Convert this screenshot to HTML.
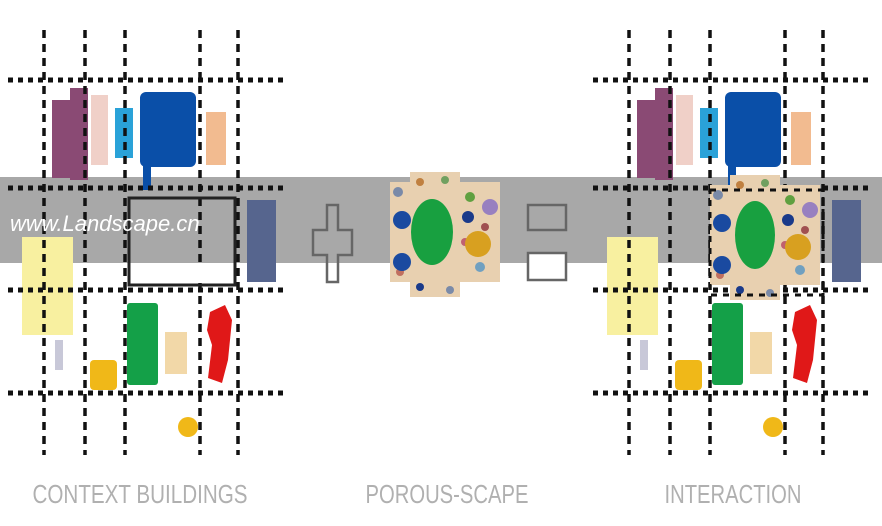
<!DOCTYPE html>
<html><head><meta charset="utf-8"><style>
html,body{margin:0;padding:0;background:#fff;width:882px;height:526px;overflow:hidden}
</style></head><body>
<svg width="882" height="526" viewBox="0 0 882 526" xmlns="http://www.w3.org/2000/svg">
<defs>
<g id="bld">
  <rect x="52" y="100" width="20" height="78" fill="#8a4a74"/>
  <rect x="70" y="88" width="18" height="92" fill="#8a4a74"/>
  <rect x="91" y="95" width="17" height="70" fill="#f0d0c8"/>
  <rect x="115" y="108" width="18" height="50" fill="#2aa2d8"/>
  <rect x="140" y="92" width="56" height="75" rx="6" fill="#0a4fa8"/>
  <rect x="143" y="150" width="8" height="40" fill="#0a4fa8"/>
  <rect x="206" y="112" width="20" height="53" fill="#f2bb90"/>
  <rect x="22" y="237" width="51" height="98" fill="#f8f0a0"/>
  <rect x="55" y="340" width="8" height="30" fill="#c8c8d8"/>
  <rect x="90" y="360" width="27" height="30" rx="4" fill="#f0b818"/>
  <rect x="127" y="303" width="31" height="82" rx="3" fill="#14a048"/>
  <rect x="165" y="332" width="22" height="42" fill="#f2d8a8"/>
  <path d="M210 312 L225 305 L232 320 L228 360 L222 383 L208 378 L212 345 L207 330Z" fill="#e01818"/>
  <circle cx="188" cy="427" r="10" fill="#f0b818"/>
  <g stroke="#111" stroke-width="3.5" stroke-dasharray="8,6" fill="none">
    <line x1="44" y1="30" x2="44" y2="455"/>
    <line x1="85" y1="30" x2="85" y2="455"/>
    <line x1="125" y1="30" x2="125" y2="455"/>
    <line x1="200" y1="30" x2="200" y2="455"/>
    <line x1="238" y1="30" x2="238" y2="455"/>
  </g>
  <g stroke="#111" stroke-width="5" stroke-dasharray="5,5" fill="none">
    <line x1="8" y1="80" x2="285" y2="80"/>
    <line x1="8" y1="188" x2="285" y2="188"/>
    <line x1="8" y1="290" x2="285" y2="290"/>
    <line x1="8" y1="393" x2="285" y2="393"/>
  </g>
</g>
<g id="por">
  <rect x="0" y="10" width="110" height="100" fill="#e8d0b0"/>
  <rect x="20" y="0" width="50" height="125" fill="#e8d0b0"/>
  <g fill="#7a8aa8">
    <circle cx="8" cy="20" r="5"/><circle cx="30" cy="10" r="4" fill="#c08040"/><circle cx="55" cy="8" r="4" fill="#70a060"/>
    <circle cx="80" cy="25" r="5" fill="#60a040"/><circle cx="95" cy="55" r="4" fill="#a05050"/><circle cx="90" cy="95" r="5" fill="#70a0c0"/>
    <circle cx="30" cy="115" r="4" fill="#1a3a8a"/><circle cx="60" cy="118" r="4"/><circle cx="10" cy="100" r="4" fill="#c07060"/>
    <circle cx="75" cy="70" r="4" fill="#c06070"/><circle cx="78" cy="45" r="6" fill="#1a3a8a"/>
  </g>
  <circle cx="12" cy="48" r="9" fill="#1a4aa0"/>
  <circle cx="12" cy="90" r="9" fill="#1a4aa0"/>
  <circle cx="88" cy="72" r="13" fill="#d8a020"/>
  <circle cx="100" cy="35" r="8" fill="#9880c0"/>
</g>
</defs>
<rect x="0" y="177" width="882" height="86" fill="#a8a8a8"/>
<use href="#bld"/>
<rect x="129" y="198" width="106" height="87" fill="none" stroke="#222" stroke-width="3"/>
<rect x="131" y="263" width="102" height="20" fill="#fff"/>
<rect x="247" y="200" width="29" height="82" fill="#56658e"/>
<text x="10" y="231" font-family="Liberation Sans, sans-serif" font-style="italic" font-size="22" fill="#fff">www.Landscape.cn</text>
<path d="M327 205 h11 v25 h14 v25 h-14 v27 h-11 v-27 h-14 v-25 h14z" fill="none" stroke="#666" stroke-width="2.5"/>
<g transform="translate(390 172)"><use href="#por"/></g>
<ellipse cx="432" cy="232" rx="21" ry="33" fill="#18a040"/>
<rect x="528" y="205" width="38" height="25" fill="none" stroke="#666" stroke-width="2.5"/>
<rect x="528" y="253" width="38" height="27" fill="#fff" stroke="#666" stroke-width="2.5"/>
<g transform="translate(585 0)"><use href="#bld"/>
  <rect x="247" y="200" width="29" height="82" fill="#56658e"/>
</g>
<g transform="translate(710 175)"><use href="#por"/></g>
<ellipse cx="755" cy="235" rx="20" ry="34" fill="#18a040"/>
<rect x="710" y="190" width="113" height="105" fill="none" stroke="#111" stroke-width="3" stroke-dasharray="6,6"/>
<g font-family="Liberation Sans, sans-serif" font-size="26" fill="#b0b0b0" text-anchor="middle">
<text x="140" y="503" textLength="215" lengthAdjust="spacingAndGlyphs">CONTEXT BUILDINGS</text>
<text x="447" y="503" textLength="163" lengthAdjust="spacingAndGlyphs">POROUS-SCAPE</text>
<text x="733" y="503" textLength="137" lengthAdjust="spacingAndGlyphs">INTERACTION</text>
</g>
</svg>
</body></html>
